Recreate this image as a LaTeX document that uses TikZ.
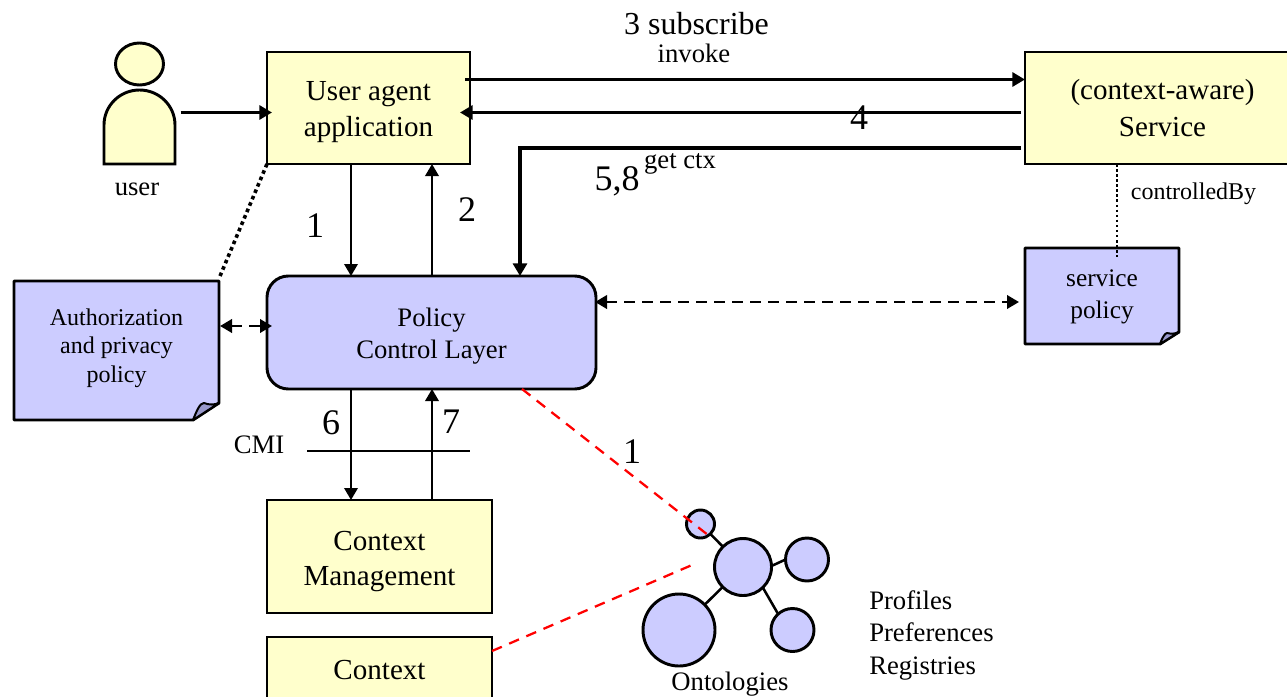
\documentclass[tikz,border=0pt]{standalone}
\usepackage{fontspec}
\setmainfont{Liberation Serif}
\usetikzlibrary{arrows.meta,calc,shapes.geometric}
\definecolor{paleyellow}{HTML}{FFFFCC}
\definecolor{paleblue}{HTML}{CCCCFF}
\definecolor{foldblue}{HTML}{9999CC}
\newcommand{\lowerfirst}[1]{\rule{0pt}{#1}}
\tikzset{
  boxy/.style={draw=black,fill=paleyellow,line width=2.2pt,outer sep=0pt,inner sep=0pt,align=center,
    font=\fontsize{21.8}{26.5}\selectfont},
  policybox/.style={draw=black,fill=paleblue,line width=2.2pt,outer sep=0pt,inner sep=0pt,align=center,
    rounded corners=16pt,font=\fontsize{20}{24}\selectfont},
  notelabel/.style={outer sep=0pt,inner sep=0pt,align=center},
  noteshape/.style={draw=black,fill=paleblue,line width=2.2pt,line join=round},
  foldshape/.style={draw=black,fill=foldblue,line width=1.5pt,line join=round},
  ball/.style={circle,draw=black,fill=paleblue,line width=2.2pt,outer sep=0pt,inner sep=0pt},
  spoke/.style={line width=1.9pt},
  thinarrow/.style={line width=1.8pt,-{Triangle[length=9pt,width=10pt]}},
  thickarrow/.style={line width=2.6pt,-{Triangle[length=9.5pt,width=10.5pt]}},
  dasharrow/.style={line width=2pt,dash pattern=on 8pt off 5.5pt,{Triangle[length=9pt,width=10pt]}-{Triangle[length=9pt,width=10pt]}},
  dotline/.style={line width=2.7pt,dash pattern=on 2.7pt off 2.5pt},
  dotthin/.style={line width=1.9pt,dash pattern=on 1.9pt off 1.9pt},
  reddash/.style={draw=red,line width=1.7pt,dash pattern=on 8pt off 6pt},
  numlabel/.style={font=\fontsize{27}{30}\selectfont,anchor=base,inner sep=0pt},
  smalllabel/.style={font=\fontsize{20}{24}\selectfont,anchor=base,inner sep=0pt},
  lowerlabel/.style={font=\fontsize{20}{24}\selectfont,anchor=base west,inner sep=0pt},
}
\begin{document}
\begin{tikzpicture}[x=0.75pt,y=-0.75pt]
\clip (0,0) rectangle (1287,696);
\fill[white] (0,0) rectangle (1287,696);
% x guides
\coordinate (x351) at (351,0);
\coordinate (x432) at (432,0);
\coordinate (x520) at (520,0);
\coordinate (x1117) at (1117,0);
\coordinate (y79) at (0,79.5);
\coordinate (y112) at (0,112.5);
\coordinate (y148) at (0,148);
\coordinate (y326) at (0,326);
\coordinate (y302) at (0,302);
\coordinate (y651) at (0,651);
% user
\path[draw=black,fill=paleyellow,line width=2.2pt] (104,164) -- (104,125) arc[start angle=180,end angle=360,x radius=35.5,y radius=35] -- (175,164) -- cycle;
\node[draw=black,fill=paleyellow,line width=2.2pt,ellipse,minimum width=36pt,minimum height=31.5pt,inner sep=0pt] (head) at (139.5,64) {};
\node[minimum width=53.25pt,minimum height=55.5pt,inner sep=0pt,outer sep=0pt] (person) at (141,127) {};
\node[smalllabel] (userlabel) at (137,195) {user};
% boxes
\node[boxy,minimum width=152.25pt,minimum height=84pt] (agent) at (368.5,108) {\lowerfirst{20.4pt}User agent\\application};
\node[boxy,minimum width=206.25pt,minimum height=84pt] (service) at (1162.5,108) {\lowerfirst{15.7pt}(context-aware)\\[1pt]Service};
\node[policybox,minimum width=246.75pt,minimum height=84.75pt] (pcl) at (431.5,332.5) {\lowerfirst{19.7pt}Policy\\Control Layer};
\node[boxy,minimum width=168.75pt,minimum height=84.75pt] (cm) at (379.5,556.5) {\lowerfirst{22.2pt}Context\\Management};
\node[boxy,minimum width=168.75pt,minimum height=49.5pt] (ctx) at (379.5,670) {Context};
% notes
\path[noteshape] (14,281) -- (219,281) -- (219,403) -- (193,420) -- (14,420) -- cycle;
\path[foldshape] (193,420) .. controls (197,410) and (200,403) .. (204,403) .. controls (209,405) and (214,405) .. (219,403) -- cycle;
\node[notelabel,minimum width=153.75pt,minimum height=104.25pt,font=\fontsize{18}{21.4}\selectfont] (auth) at (116.5,348) {Authorization\\and privacy\\policy};
\path[noteshape] (1025,248) -- (1179,248) -- (1179,332) -- (1160,344) -- (1025,344) -- cycle;
\path[foldshape] (1160,344) .. controls (1162,338) and (1165,333) .. (1167,333) .. controls (1171,334) and (1175,334) .. (1179,332) -- cycle;
\node[notelabel,minimum width=115.5pt,minimum height=72pt,font=\fontsize{19}{24}\selectfont] (spol) at (1102,297) {service\\policy};
% connectors
\draw[thickarrow] ($(person.east |- y112)+(4,0)$) -- ($(agent.west |- y112)+(5,0)$);
\draw[thickarrow] ($(agent.east |- y79)+(-5,0)$) -- (service.west |- y79);
\draw[thickarrow] ($(service.west |- y112)+(-4,0)$) -- ($(agent.east |- y112)+(-10,0)$);
\draw[thickarrow] ($(service.west |- y148)+(-4,0)$) -- (x520 |- y148) -- (x520 |- pcl.north);
\draw[thinarrow] (x351 |- agent.south) -- (x351 |- pcl.north);
\draw[thinarrow] (x432 |- pcl.north) -- (x432 |- agent.south);
\draw[thinarrow] (x351 |- pcl.south) -- (x351 |- cm.north);
\draw[thinarrow] (x432 |- cm.north) -- (x432 |- pcl.south);
\draw[dasharrow] ($(auth.east |- y326)+(1,0)$) -- ($(pcl.west |- y326)+(5,0)$);
\draw[dasharrow] ($(pcl.east |- y302)+(-1,0)$) -- ($(spol.west |- y302)+(-6,0)$);
\draw[dotline] (agent.south west) -- (auth.north east);
\draw[dotthin] (x1117 |- service.south) -- ($(x1117 |- spol.north)+(0,8)$);
% ontology
\node[ball,minimum size=21pt] (o1) at (700.5,524) {};
\node[ball,minimum size=42.75pt] (o2) at (743,567) {};
\node[ball,minimum size=32.25pt] (o3) at (807,559.5) {};
\node[ball,minimum size=32.25pt] (o4) at (792.5,630) {};
\node[ball,minimum size=54pt] (o5) at (679,630) {};
\draw[spoke] (o1) -- (o2);
\draw[spoke] (o2.2) -- (o3.180);
\draw[spoke] (o2.-46) -- (o4.132);
\draw[spoke] (o2) -- (o5);
\coordinate (redA) at (708,535);
\coordinate (redB) at (692,565);
\coordinate (redC) at (522,389);
\draw[reddash] (redC) -- (redA);
\draw[reddash] (ctx.east |- y651) -- (redB);
% CMI line
\node[smalllabel] (cmi) at (259,453) {CMI};
\coordinate (cmiA) at (307,451);
\coordinate (cmiB) at (470,451);
\draw[line width=1pt] (cmiA) -- (cmiB);
% labels
\node[font=\fontsize{24}{28}\selectfont,anchor=base,inner sep=0pt] (l3) at (696.5,34) {3 subscribe};
\node[smalllabel] (linv) at (694,62) {invoke};
\node[numlabel] (l4) at (859,129) {4};
\node[numlabel] (l58) at (617,190) {5,8};
\node[smalllabel] (lget) at (680,168) {get ctx};
\node[numlabel] (l1) at (315,237) {1};
\node[numlabel] (l2) at (467,221) {2};
\node[numlabel] (l6) at (331,434) {6};
\node[numlabel] (l7) at (451,433) {7};
\node[numlabel] (l1b) at (632,463) {1};
\node[font=\fontsize{18}{21}\selectfont,anchor=base,inner sep=0pt] (lctrl) at (1193.5,199) {controlledBy};
\node[lowerlabel] (lprof) at (869,609) {Profiles};
\node[lowerlabel] (lpref) at (869,641) {Preferences};
\node[lowerlabel] (lreg) at (869,674) {Registries};
\node[smalllabel] (lont) at (730,690) {Ontologies};
\end{tikzpicture}
\end{document}
